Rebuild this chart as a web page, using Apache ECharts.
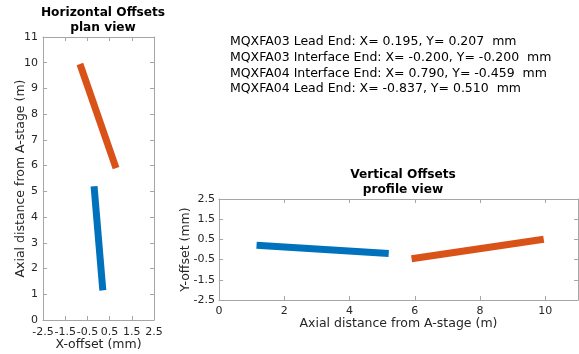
<!DOCTYPE html>
<html>
<head>
<meta charset="utf-8">
<script src="https://cdn.jsdelivr.net/npm/echarts@6/dist/echarts.min.js"></script>
<style>
  html, body { margin: 0; padding: 0; background: #fff; }
  #chart { width: 579px; height: 354px; }
</style>
</head>
<body>
<div id="chart"></div>
<script>
// axial positions (m) of the two magnet ends
const axial03 = [1.15, 5.2]
const axial04 = [5.9, 9.95]
// offsets (mm)
const x03 = [0.195, -0.200]
const y03 = [0.207, -0.200]
const x04 = [0.790, -0.837]
const y04 = [-0.459, 0.510]

const infoLines = [
  'MQXFA03 Lead End: X= 0.195, Y= 0.207  mm',
  'MQXFA03 Interface End: X= -0.200, Y= -0.200  mm',
  'MQXFA04 Interface End: X= 0.790, Y= -0.459  mm',
  'MQXFA04 Lead End: X= -0.837, Y= 0.510  mm'
]

const blue = '#0072BD'
const orange = '#D95319'
const font = 'DejaVu Sans'
const frame = '#a6a6a6'
const textColor = '#262626'

const pair = (xs, ys) => xs.map((v, i) => [v, ys[i]])

const chart = echarts.init(document.getElementById('chart'))

const baseAxis = (extra) => Object.assign({
  axisLine: { show: true, onZero: false, lineStyle: { color: frame, width: 1 } },
  axisTick: { show: true, inside: true, length: 4, lineStyle: { color: frame } },
  axisLabel: { color: textColor, fontFamily: font, fontSize: 11, margin: 5 },
  splitLine: { show: false },
  nameMoveOverlap: false,
  nameTextStyle: { color: textColor, fontFamily: font, fontSize: 12.5 }
}, extra)

const mirrorAxis = (extra) => Object.assign(baseAxis({}), {
  axisLabel: { show: false }
}, extra)

chart.setOption({
  animation: false,
  textStyle: { fontFamily: font },
  title: [
    { text: 'Horizontal Offsets\nplan view', left: 98, top: 0, textAlign: 'center',
      textStyle: { fontFamily: font, fontSize: 12.2, fontWeight: 'bold', color: '#000', lineHeight: 15 } },
    { text: 'Vertical Offsets\nprofile view', left: 398, top: 162, textAlign: 'center',
      textStyle: { fontFamily: font, fontSize: 12.2, fontWeight: 'bold', color: '#000', lineHeight: 15 } },
    { text: infoLines.join('\n'), left: 225, top: 29,
      textStyle: { fontFamily: font, fontSize: 12.5, fontWeight: 'normal', color: '#000', lineHeight: 15.7 } }
  ],
  grid: [
    { left: 43, top: 37, width: 111, height: 283, outerBoundsMode: 'none' },
    { left: 219, top: 199, width: 359, height: 101, outerBoundsMode: 'none' }
  ],
  xAxis: [
    baseAxis({ gridIndex: 0, type: 'value', min: -2.5, max: 2.5, interval: 1,
      axisLabel: { color: textColor, fontFamily: font, fontSize: 11, margin: 7 },
      name: 'X-offset (mm)', nameLocation: 'middle', nameGap: 18 }),
    mirrorAxis({ gridIndex: 0, type: 'value', position: 'top', min: -2.5, max: 2.5, interval: 1 }),
    baseAxis({ gridIndex: 1, type: 'value', min: 0, max: 11, interval: 2,
      axisLabel: { color: textColor, fontFamily: font, fontSize: 11, margin: 6, showMaxLabel: false },
      name: 'Axial distance from A-stage (m)', nameLocation: 'middle', nameGap: 17 }),
    mirrorAxis({ gridIndex: 1, type: 'value', position: 'top', min: 0, max: 11, interval: 2 })
  ],
  yAxis: [
    baseAxis({ gridIndex: 0, type: 'value', min: 0, max: 11, interval: 1,
      name: 'Axial distance from A-stage (m)', nameLocation: 'middle', nameGap: 16 }),
    mirrorAxis({ gridIndex: 0, type: 'value', position: 'right', min: 0, max: 11, interval: 1 }),
    baseAxis({ gridIndex: 1, type: 'value', min: -2.5, max: 2.5, interval: 1,
      axisLabel: { color: textColor, fontFamily: font, fontSize: 11, margin: 4 },
      name: 'Y-offset (mm)', nameLocation: 'middle', nameGap: 27 }),
    mirrorAxis({ gridIndex: 1, type: 'value', position: 'right', min: -2.5, max: 2.5, interval: 1 })
  ],
  series: [
    { name: 'MQXFA03 plan', type: 'line', xAxisIndex: 0, yAxisIndex: 0, symbol: 'none',
      lineStyle: { color: blue, width: 7, cap: 'butt' }, data: pair(x03, axial03) },
    { name: 'MQXFA04 plan', type: 'line', xAxisIndex: 0, yAxisIndex: 0, symbol: 'none',
      lineStyle: { color: orange, width: 7, cap: 'butt' }, data: pair(x04, axial04) },
    { name: 'MQXFA03 profile', type: 'line', xAxisIndex: 2, yAxisIndex: 2, symbol: 'none',
      lineStyle: { color: blue, width: 7, cap: 'butt' }, data: pair(axial03, y03) },
    { name: 'MQXFA04 profile', type: 'line', xAxisIndex: 2, yAxisIndex: 2, symbol: 'none',
      lineStyle: { color: orange, width: 7, cap: 'butt' }, data: pair(axial04, y04) }
  ]
})
</script>
</body>
</html>
